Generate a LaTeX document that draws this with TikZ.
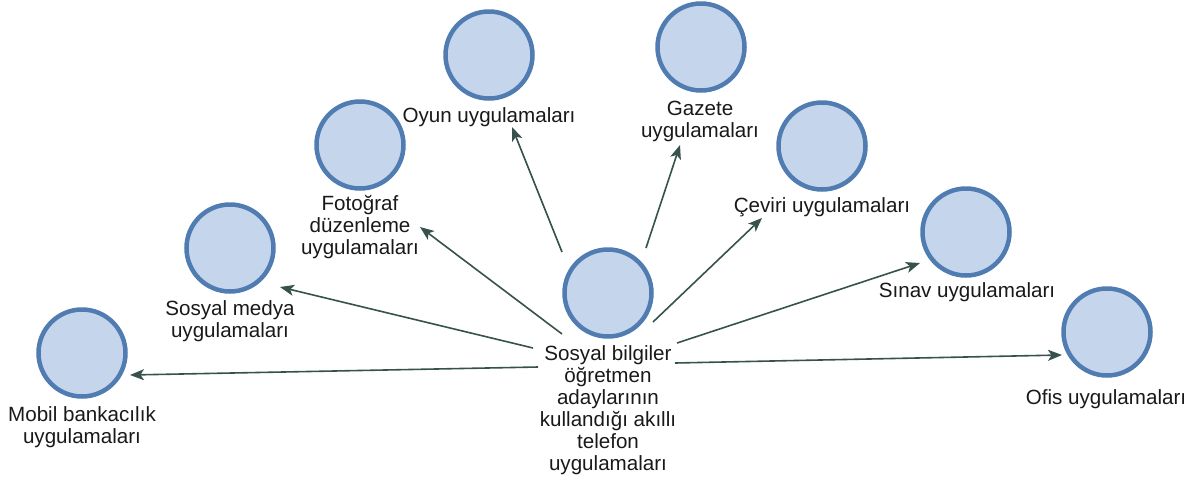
\documentclass[tikz,border=0pt]{standalone}
\usepackage{fontspec}
\setmainfont{Liberation Sans}
\usetikzlibrary{arrows.meta}
\definecolor{circfill}{RGB}{197,214,236}
\definecolor{circedge}{RGB}{80,124,178}
\definecolor{arrowcol}{RGB}{55,82,76}
\definecolor{textcol}{RGB}{25,25,25}
\tikzset{
  app/.style={circle,draw=circedge,fill=circfill,line width=4.5pt,minimum size=87pt,inner sep=0pt},
  lbl/.style={align=center,inner sep=0pt,anchor=base,text=textcol,font=\fontsize{20.6}{22}\selectfont},
  conn/.style={draw=arrowcol,line width=1.6pt,-{Stealth[length=14pt,width=11pt,inset=3.5pt]}}
}
\begin{document}
\begin{tikzpicture}[x=1pt,y=-1pt]
\useasboundingbox (0,0) rectangle (1199,488);
% circles
\node[app] (cM) at (82,353) {};
\node[app] (cS) at (230,248) {};
\node[app] (cF) at (360,145) {};
\node[app] (cO) at (489,55) {};
\node[app] (cG) at (701,47) {};
\node[app] (cC) at (822,146) {};
\node[app] (cN) at (966,232) {};
\node[app] (cX) at (1107,332) {};
\node[app] (cZ) at (608,293) {};
% labels (anchor at baseline of last line)
\node[lbl] (lM) at (82,443) {Mobil bankacılık\\uygulamaları};
\node[lbl] (lS) at (230,337) {Sosyal medya\\uygulamaları};
\node[lbl] (lF) at (360,254) {Fotoğraf\\düzenleme\\uygulamaları};
\node[lbl] (lO) at (489,122) {Oyun uygulamaları};
\node[lbl] (lG) at (700,137) {Gazete\\uygulamaları};
\node[lbl] (lC) at (822,212) {Çeviri uygulamaları};
\node[lbl] (lN) at (967,297) {Sınav uygulamaları};
\node[lbl] (lX) at (1106,404) {Ofis uygulamaları};
\node[lbl] (lZ) at (608,470) {Sosyal bilgiler\\öğretmen\\adaylarının\\kullandığı akıllı\\telefon\\uygulamaları};
% connector ends
\coordinate (s1) at (538,367); \coordinate (t1) at (130,375);
\coordinate (s2) at (533,348); \coordinate (t2) at (280,287);
\coordinate (s3) at (562,334); \coordinate (t3) at (420,227);
\coordinate (s4) at (562,252); \coordinate (t4) at (512,127);
\coordinate (s5) at (646,248); \coordinate (t5) at (680,145);
\coordinate (s6) at (653,322); \coordinate (t6) at (762,218);
\coordinate (s7) at (677,343); \coordinate (t7) at (920,263);
\coordinate (s8) at (675,363); \coordinate (t8) at (1062,355);
\foreach \i in {1,...,8} \draw[conn] (s\i) -- (t\i);
\end{tikzpicture}
\end{document}
